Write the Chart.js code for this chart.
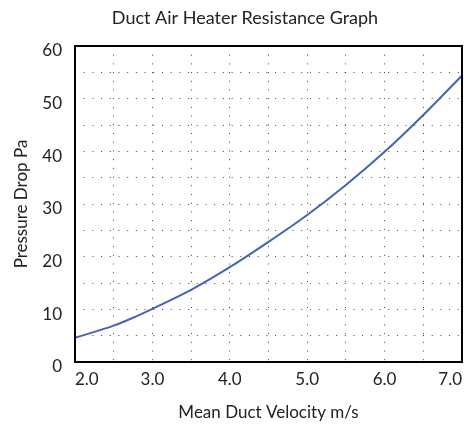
<!DOCTYPE html>
<html>
<head>
<meta charset="utf-8">
<script src="https://cdn.jsdelivr.net/npm/chart.js@4"></script>
<style>
  html, body { margin: 0; padding: 0; background: #fff; }
  #wrap { width: 469px; height: 426px; }
</style>
</head>
<body>
<div id="wrap"><canvas id="resistanceChart" width="469" height="426"></canvas></div>
<script>
const velocity = [2.0, 2.5, 2.75, 3.0, 3.5, 4.0, 4.5, 5.0, 5.5, 6.0, 6.5, 7.0];
const pressureDrop = [4.6, 6.9, 8.4, 10.1, 13.7, 18.0, 22.8, 27.9, 33.6, 39.9, 46.9, 54.4];
const yTickLabels = [0, 10, 20, 30, 40, 50, 60];
const xTickLabels = [2, 3, 4, 5, 6, 7];

const fontFamily = 'Lato, "DejaVu Sans", sans-serif';
const textColor = '#222';

// solid frame round the plot area
const frame = {
  id: 'frame',
  afterDraw(chart) {
    const { ctx, chartArea } = chart;
    ctx.save();
    ctx.strokeStyle = '#000';
    ctx.lineWidth = 2;
    ctx.strokeRect(chartArea.left, chartArea.top, chartArea.right - chartArea.left, chartArea.bottom - chartArea.top);
    ctx.restore();
  }
};

new Chart(document.getElementById('resistanceChart'), {
  type: 'line',
  data: {
    datasets: [{
      label: 'Pressure Drop',
      data: velocity.map((v, i) => ({ x: v, y: pressureDrop[i] })),
      borderColor: '#4464b4',
      borderWidth: 2,
      pointRadius: 0,
      fill: false,
      cubicInterpolationMode: 'monotone'
    }]
  },
  options: {
    responsive: false,
    animation: false,
    layout: { padding: { left: 28, right: 7, top: 0, bottom: 0 } },
    plugins: {
      legend: { display: false },
      tooltip: { enabled: false },
      title: {
        display: true,
        text: 'Duct Air Heater Resistance Graph',
        color: textColor,
        font: { family: fontFamily, size: 18, weight: 'normal', lineHeight: 1.2 },
        padding: { top: 7, bottom: 17.4 }
      }
    },
    scales: {
      x: {
        type: 'linear',
        min: 2,
        max: 7,
        afterFit: (s) => { s.height = 64; },
        ticks: {
          stepSize: 0.5,
          align: 'inner',
          padding: 7,
          maxRotation: 0,
          color: textColor,
          font: { family: fontFamily, size: 17 },
          callback: (v) => xTickLabels.includes(v) ? v.toFixed(1) : ''
        },
        grid: { color: '#444', lineWidth: 1, drawTicks: false },
        border: { display: false, dash: [1, 7.7] },
        title: {
          display: true,
          text: 'Mean Duct Velocity m/s',
          color: textColor,
          font: { family: fontFamily, size: 17 },
          padding: { top: 0, bottom: 3 }
        }
      },
      y: {
        min: 0,
        max: 60,
        afterFit: (s) => { s.width = 47; },
        ticks: {
          stepSize: 5,
          padding: 13,
          labelOffset: 5,
          color: textColor,
          font: { family: fontFamily, size: 17 },
          callback: (v) => yTickLabels.includes(v) ? String(v) : ''
        },
        grid: { color: '#444', lineWidth: 1, drawTicks: false },
        border: { display: false, dash: [1, 7.7] },
        title: {
          display: true,
          text: 'Pressure Drop Pa',
          color: textColor,
          font: { family: fontFamily, size: 17 },
          padding: { top: -17, bottom: 0 }
        }
      }
    }
  },
  plugins: [frame]
});
</script>
</body>
</html>
